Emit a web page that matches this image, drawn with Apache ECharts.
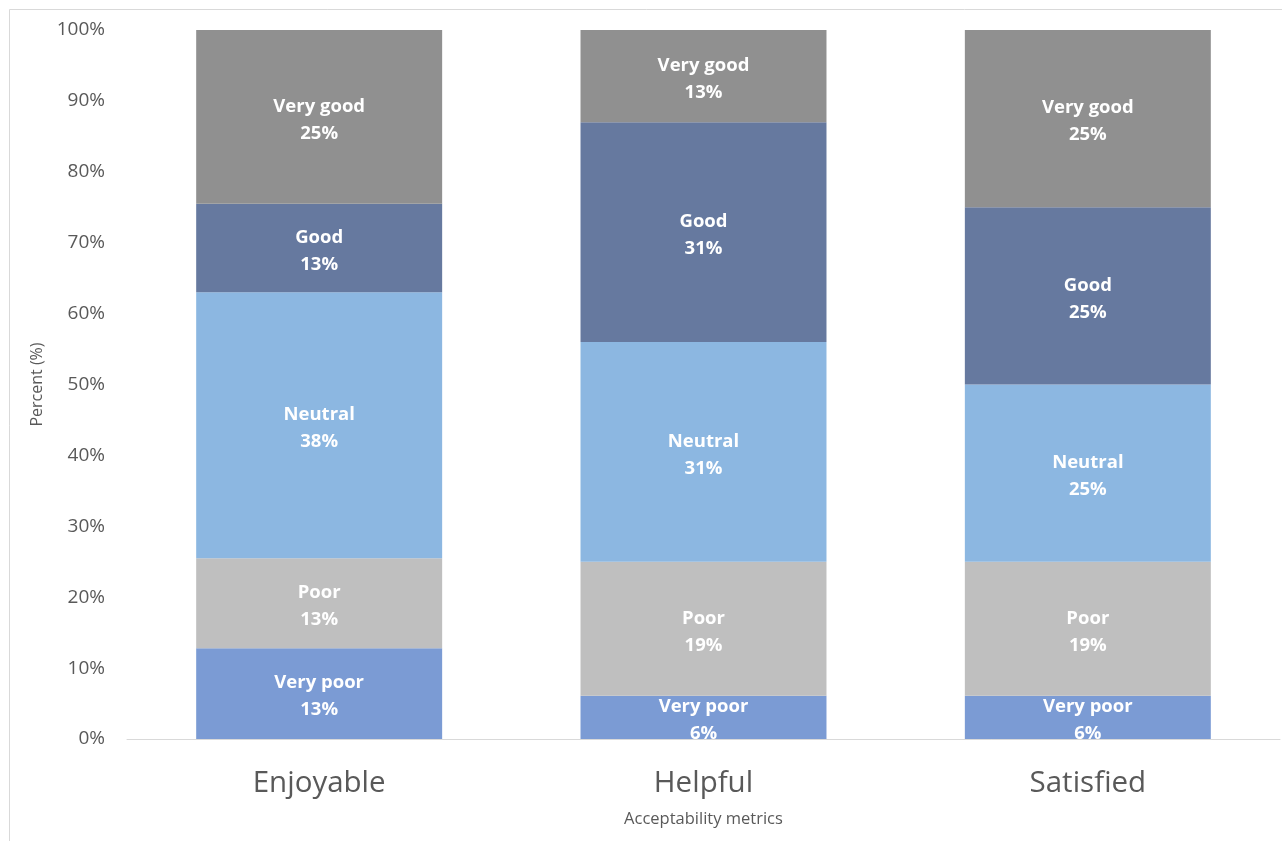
<!DOCTYPE html>
<html>
<head>
<meta charset="utf-8">
<script src="https://cdn.jsdelivr.net/npm/echarts@6/dist/echarts.min.js"></script>
<style>
html,body{margin:0;padding:0;background:#fff;}
#chart{width:1282px;height:841px;}
</style>
</head>
<body>
<div id="chart"></div>
<script>
var categories = ['Enjoyable', 'Helpful', 'Satisfied'];
var seriesNames = ['Very poor', 'Poor', 'Neutral', 'Good', 'Very good'];
var veryPoor = [12.8, 6.1, 6.1];
var poor = [12.7, 18.9, 18.9];
var neutral = [37.5, 31.0, 25.0];
var good = [12.5, 31.0, 25.0];
var veryGood = [24.5, 13.0, 25.0];
var yTicks = [0, 10, 20, 30, 40, 50, 60, 70, 80, 90, 100];

var colors = ['#7B9BD4', '#BFBFBF', '#8CB7E1', '#66799F', '#909090'];
var dataSets = [veryPoor, poor, neutral, good, veryGood];
var FONT = '"Open Sans", "Noto Sans", sans-serif';

var series = seriesNames.map(function (name, i) {
  return {
    name: name,
    type: 'bar',
    stack: 'total',
    barWidth: '64%',
    data: dataSets[i],
    itemStyle: { color: colors[i] },
    label: {
      show: true,
      position: 'inside',
      offset: [0, 3],
      color: '#ffffff',
      fontFamily: FONT,
      fontWeight: 'bold',
      fontSize: 18.5,
      lineHeight: 27,
      formatter: function (p) { return p.seriesName + '\n' + Math.round(p.value) + '%'; }
    }
  };
});

var chart = echarts.init(document.getElementById('chart'), null, { renderer: 'canvas' });
chart.setOption({
  animation: false,
  backgroundColor: '#ffffff',
  grid: { left: 127, right: 2, top: 30, bottom: 102, containLabel: false },
  graphic: [{
    type: 'rect',
    shape: { x: 9.5, y: 9.5, width: 1290, height: 900 },
    style: { fill: 'none', stroke: '#d9d9d9', lineWidth: 1 },
    silent: true
  }],
  xAxis: {
    type: 'category',
    data: categories,
    name: 'Acceptability metrics',
    nameLocation: 'middle',
    nameGap: 72,
    nameTextStyle: { fontFamily: FONT, fontSize: 16.5, color: '#595959' },
    axisLine: { show: true, lineStyle: { color: '#d9d9d9', width: 1 } },
    axisTick: { show: false },
    axisLabel: { fontFamily: FONT, fontSize: 29.5, color: '#595959', margin: 30 }
  },
  yAxis: {
    type: 'value',
    min: 0,
    max: 100,
    interval: 10,
    name: 'Percent (%)',
    nameLocation: 'middle',
    nameGap: 80,
    nameRotate: 90,
    nameTextStyle: { fontFamily: FONT, fontSize: 16, color: '#595959' },
    splitLine: { show: false },
    axisLine: { show: false },
    axisTick: { show: false },
    axisLabel: {
      fontFamily: FONT, fontSize: 19, color: '#595959', margin: 22,
      formatter: function (v) { return yTicks.indexOf(v) >= 0 ? v + '%' : ''; }
    }
  },
  series: series
});
</script>
</body>
</html>
